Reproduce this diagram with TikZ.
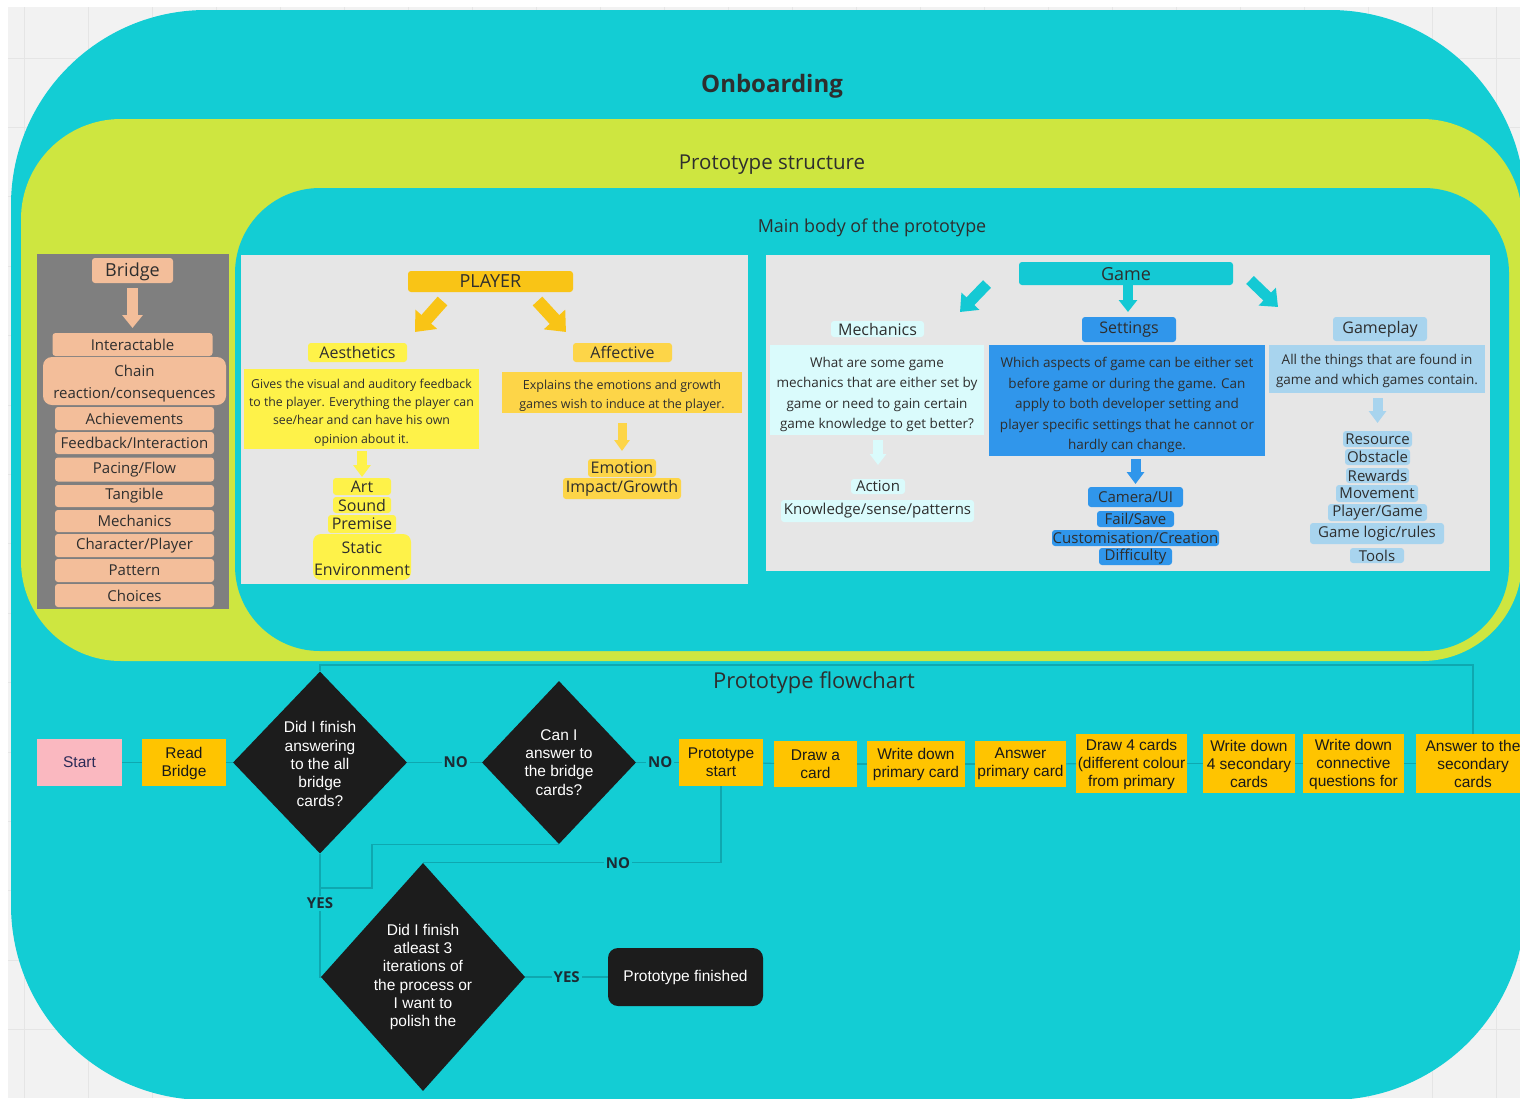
\documentclass[tikz,border=0pt]{standalone}
\usepackage{fontspec}
\setmainfont{Open Sans}
\newfontfamily\arialf{Liberation Sans}
\usetikzlibrary{arrows.meta,shapes.geometric,calc}
\definecolor{bgc}{HTML}{F2F2F2}
\definecolor{gridc}{HTML}{E5E5E5}
\definecolor{teal1}{HTML}{13CDD4}
\definecolor{lime1}{HTML}{CEE640}
\definecolor{grayp}{HTML}{7F7F7F}
\definecolor{panel}{HTML}{E6E6E6}
\definecolor{salm}{HTML}{F3BE9A}
\definecolor{pyel}{HTML}{F9C416}
\definecolor{byel}{HTML}{FEF249}
\definecolor{oyel}{HTML}{FDD548}
\definecolor{gteal}{HTML}{14C9D4}
\definecolor{lcyan}{HTML}{DAFBFC}
\definecolor{sblue}{HTML}{3096EB}
\definecolor{lblue}{HTML}{A8D4EE}
\definecolor{fbox}{HTML}{FFC400}
\definecolor{pink1}{HTML}{FAB8C0}
\definecolor{dia}{HTML}{1C1C1C}
\definecolor{linec}{HTML}{0EA8B0}
\definecolor{txt}{HTML}{2E2E2E}
\definecolor{navy1}{HTML}{2B2B57}
\definecolor{lbl}{HTML}{1D2B33}
\newcommand\dnstrut[1]{\rule{0pt}{#1}}
\begin{document}
\begin{tikzpicture}[x=1pt,y=-1pt,
  bx/.style={rectangle, inner sep=0pt, outer sep=0pt, align=center, text=txt},
  sal/.style={bx, fill=salm, rounded corners=3pt, font=\fontsize{15}{18}\selectfont},
  lab/.style={bx, rounded corners=3pt, font=\fontsize{16}{19}\selectfont},
  itm/.style={bx, rounded corners=3pt, font=\fontsize{15}{17}\selectfont},
  dsc/.style={bx, font=\fontsize{12.3}{18.3}\selectfont},
  dscg/.style={bx, font=\fontsize{13.5}{20.4}\selectfont},
  blk/.style n args={3}{line width=#1, -{Triangle[width=#2,length=#3]}},
  fl/.style={bx, fill=fbox, font=\arialf\fontsize{15.5}{18}\selectfont, text=black!90},
  dm/.style={diamond, fill=dia, inner sep=0pt, aspect=1, align=center, text=white, font=\arialf\fontsize{15.5}{18.3}\selectfont},
  cn/.style={draw=linec, line width=1.1pt},
  yn/.style={font=\bfseries\fontsize{15}{18}\selectfont, text=lbl, fill=teal1, inner sep=2pt},
  ttl/.style={text=txt, inner sep=0pt}
]
\useasboundingbox (0,0) rectangle (1520,1098);
\clip (0,0) rectangle (1520,1098);
% background
\fill[white] (0,0) rectangle (1520,1098);
\fill[bgc] (8,7) rectangle (1520,1098);
\foreach \x in {24,88,...,1520} \draw[gridc, line width=0.8pt] (\x,7) -- (\x,1098);
\foreach \k in {0,...,15} \draw[gridc, line width=0.8pt] (8,{58+69.4*\k}) -- (1520,{58+69.4*\k});
% containers
\fill[teal1, rounded corners=195pt] (11,10) rectangle (1525,1100);
\fill[lime1, rounded corners=100pt] (21,119) rectangle (1522,661);
\fill[teal1, rounded corners=85pt] (235,188) rectangle (1509,651);
\node[ttl, font=\bfseries\fontsize{24}{28}\selectfont] (onb) at (772,86) {Onboarding};
\node[ttl, font=\fontsize{20.5}{24}\selectfont] (pstruct) at (772,164.5) {Prototype structure};
\node[ttl, font=\fontsize{17.9}{21}\selectfont] (mbody) at (872,227.5) {Main body of the prototype};
\node[ttl, font=\fontsize{21.9}{25}\selectfont] (pflow) at (814,682.5) {Prototype flowchart};

% Bridge panel
\node[bx, fill=grayp, minimum width=192pt, minimum height=355pt] (bpanel) at (133,431.5) {};
\node[sal, font=\fontsize{18}{20}\selectfont, minimum width=81pt, minimum height=25pt] (bridge) at (132.5,270.5) {\dnstrut{16pt}Bridge};
\node[sal, minimum width=160pt, minimum height=23pt] (b1) at (132.5,344.5) {Interactable};
\node[sal, rounded corners=9pt, font=\fontsize{15}{22}\selectfont, minimum width=183pt, minimum height=48pt] (b2) at (134.5,381) {\dnstrut{17pt}Chain\\reaction/consequences};
\node[sal, minimum width=159pt, minimum height=23pt] (b3) at (134.5,418.5) {Achievements};
\node[sal, minimum width=159pt, minimum height=22pt] (b4) at (134.5,443) {Feedback/Interaction};
\node[sal, minimum width=159pt, minimum height=24pt] (b5) at (134.5,469.5) {Pacing/Flow};
\node[sal, minimum width=159pt, minimum height=22pt] (b6) at (134.5,496) {Tangible};
\node[sal, minimum width=159pt, minimum height=22pt] (b7) at (134.5,521) {Mechanics};
\node[sal, minimum width=159pt, minimum height=23pt] (b8) at (134.5,545.5) {Character/Player};
\node[sal, minimum width=159pt, minimum height=23pt] (b9) at (134.5,570.5) {Pattern};
\node[sal, minimum width=159pt, minimum height=23pt] (b10) at (134.5,595.5) {Choices};
\draw[blk={11pt}{20pt}{13pt}, salm] ($(bridge.south)+(0,5)$) -- ($(b1.north)+(0,-5)$);

% Player panel
\node[bx, fill=panel, minimum width=507pt, minimum height=329pt] (ppanel) at (494.5,419.5) {};
\node[lab, fill=pyel, font=\fontsize{18}{20}\selectfont, minimum width=165pt, minimum height=21pt] (player) at (490.5,281.5) {PLAYER};
\node[lab, fill=byel, minimum width=99pt, minimum height=19pt] (aes) at (357.5,352.5) {Aesthetics};
\node[dsc, fill=byel, minimum width=235pt, minimum height=80pt] (aesd) at (361.5,409) {\dnstrut{16.5pt}Gives the visual and auditory feedback\\to the player. Everything the player can\\see/hear and can have his own\\opinion about it.};
\node[itm, fill=byel, font=\fontsize{16}{18}\selectfont, minimum width=58pt, minimum height=17pt] (art) at (362,486.5) {Art};
\node[itm, fill=byel, font=\fontsize{16}{18}\selectfont, minimum width=58pt, minimum height=16pt] (sound) at (362,505) {Sound};
\node[itm, fill=byel, font=\fontsize{16}{18}\selectfont, minimum width=68pt, minimum height=18pt] (premise) at (362,524) {Premise};
\node[itm, fill=byel, rounded corners=8pt, font=\fontsize{16}{22}\selectfont, minimum width=98pt, minimum height=46pt] (static) at (362,557) {\dnstrut{15pt}Static\\Environment};
\node[lab, fill=oyel, minimum width=99pt, minimum height=19pt] (aff) at (622.5,352.5) {Affective};
\node[dsc, fill=oyel, font=\fontsize{12.5}{19.3}\selectfont, minimum width=240pt, minimum height=41pt] (affd) at (622,392.5) {\dnstrut{15.5pt}Explains the emotions and growth\\games wish to induce at the player.};
\node[itm, fill=oyel, font=\fontsize{16}{18}\selectfont, minimum width=68pt, minimum height=18pt] (emo) at (622,468) {Emotion};
\node[itm, fill=oyel, font=\fontsize{16}{18}\selectfont, minimum width=118pt, minimum height=21pt] (imp) at (622,488.5) {Impact/Growth};
\draw[blk={13pt}{28pt}{17pt}, pyel] ($(player.south)+(-48,9)$) -- ($(aes.north)+(57.5,-11)$);
\draw[blk={13pt}{28pt}{17pt}, pyel] ($(player.south)+(47,9)$) -- ($(aff.north)+(-56.5,-11)$);
\draw[blk={10pt}{17pt}{12pt}, byel] ($(aesd.south)+(0.5,2)$) -- ($(art.north)+(0,-1)$);
\draw[blk={9pt}{15pt}{11pt}, oyel] ($(affd.south)+(0,10)$) -- ($(emo.north)+(0,-8)$);

% Game panel
\node[bx, fill=panel, minimum width=724pt, minimum height=316pt] (gpanel) at (1128,413) {};
\node[lab, fill=gteal, font=\fontsize{18}{20}\selectfont, minimum width=214pt, minimum height=23pt] (game) at (1126,273.5) {\dnstrut{15pt}Game};
\node[lab, fill=lcyan, minimum width=93pt, minimum height=16pt] (mech) at (877.5,329) {Mechanics};
\node[dscg, fill=lcyan, minimum width=214pt, minimum height=90pt] (mechd) at (877,390) {\dnstrut{19pt}What are some game\\mechanics that are either set by\\game or need to gain certain\\game knowledge to get better?};
\node[itm, fill=lcyan, minimum width=54pt, minimum height=15pt] (action) at (878,486.5) {Action};
\node[itm, fill=lcyan, minimum width=193pt, minimum height=22pt] (know) at (877.5,511) {Knowledge/sense/patterns};
\node[lab, fill=sblue, minimum width=94pt, minimum height=25pt] (sett) at (1129,329.5) {Settings};
\node[dscg, fill=sblue, font=\fontsize{13.5}{20.5}\selectfont, minimum width=276pt, minimum height=111pt] (settd) at (1127,400.5) {\dnstrut{20pt}Which aspects of game can be either set\\before game or during the game. Can\\apply to both developer setting and\\player specific settings that he cannot or\\hardly can change.};
\node[itm, fill=sblue, minimum width=95pt, minimum height=20pt] (cam) at (1135.5,497) {Camera/UI};
\node[itm, fill=sblue, minimum width=77pt, minimum height=16pt] (fail) at (1135.5,519) {Fail/Save};
\node[itm, fill=sblue, minimum width=167pt, minimum height=16pt] (cust) at (1135.5,538) {Customisation/Creation};
\node[itm, fill=sblue, minimum width=73pt, minimum height=17pt] (diff) at (1135.5,556.5) {Difficulty};
\node[lab, fill=lblue, minimum width=94pt, minimum height=24pt] (gplay) at (1380,329) {Gameplay};
\node[dscg, fill=lblue, font=\fontsize{13.5}{20.7}\selectfont, minimum width=216pt, minimum height=48pt] (gpd) at (1377,369) {\dnstrut{14pt}All the things that are found in\\game and which games contain.};
\node[itm, fill=lblue, minimum width=69pt, minimum height=16pt] (res) at (1377.5,439) {Resource};
\node[itm, fill=lblue, minimum width=65pt, minimum height=16pt] (obs) at (1377.5,457) {Obstacle};
\node[itm, fill=lblue, minimum width=63pt, minimum height=15pt] (rew) at (1377.5,475.5) {Rewards};
\node[itm, fill=lblue, minimum width=82pt, minimum height=17pt] (mov) at (1377,493.5) {Movement};
\node[itm, fill=lblue, minimum width=99pt, minimum height=17pt] (pg) at (1377.5,512.5) {Player/Game};
\node[itm, fill=lblue, minimum width=134pt, minimum height=21pt] (glr) at (1377,533.5) {Game logic/rules};
\node[itm, fill=lblue, minimum width=54pt, minimum height=15pt] (tools) at (1377,555.5) {Tools};
\draw[blk={11pt}{24pt}{15pt}, gteal] ($(game.south west)+(-32,-1)$) -- ($(mech.north east)+(36,-9)$);
\draw[blk={10pt}{18pt}{12pt}, gteal] ($(game.south)+(2,0)$) -- ($(sett.north)+(-1,-5)$);
\draw[blk={11pt}{24pt}{15pt}, gteal] ($(game.south east)+(17,-5)$) -- ($(gplay.north west)+(-55,-10)$);
\draw[blk={10pt}{16pt}{11pt}, lcyan] ($(mechd.south)+(1,5)$) -- ($(action.north)+(0,-14)$);
\draw[blk={10pt}{17pt}{12pt}, sblue] ($(cam.north)+(0,-28)$) -- ($(cam.north)+(0,-3)$);
\draw[blk={10pt}{17pt}{12pt}, lblue] ($(res.north)+(0,-33)$) -- ($(res.north)+(0,-8)$);

% Flowchart
\node[bx, fill=pink1, text=navy1, font=\arialf\fontsize{15.5}{18}\selectfont, minimum width=85pt, minimum height=47pt] (start) at (79.5,762.5) {Start};
\node[fl, minimum width=84pt, minimum height=47pt] (rb) at (184,762.5) {\dnstrut{14pt}Read\\Bridge};
\node[dm, minimum width=174pt, minimum height=182pt] (d1) at (320,762.5) {\dnstrut{14pt}Did I finish\\answering\\to the all\\bridge\\cards?};
\node[dm, minimum width=154pt, minimum height=163pt] (d2) at (559,762.5) {Can I\\answer to\\the bridge\\cards?};
\node[fl, minimum width=84pt, minimum height=47pt] (ps) at (721,762.5) {Prototype\\start};
\node[fl, minimum width=83pt, minimum height=46pt] (dc) at (815.5,764) {Draw a\\card};
\node[fl, minimum width=98pt, minimum height=46pt] (wp) at (916,764) {Write down\\primary card};
\node[fl, minimum width=91pt, minimum height=46pt] (ap) at (1020.5,764) {Answer\\primary card};
\node[fl, minimum width=111pt, minimum height=59pt] (d4) at (1131.5,763.5) {\dnstrut{14pt}Draw 4 cards\\(different colour\\from primary};
\node[fl, minimum width=92pt, minimum height=59pt] (w4) at (1249,763.5) {Write down\\4 secondary\\cards};
\node[fl, minimum width=101pt, minimum height=59pt] (wc) at (1353.5,763.5) {\dnstrut{14pt}Write down\\connective\\questions for};
\node[fl, minimum width=114pt, minimum height=59pt] (as) at (1473,763.5) {Answer to the\\secondary\\cards};
\node[dm, minimum width=202pt, minimum height=228pt] (d3) at (423,977) {Did I finish\\atleast 3\\iterations of\\the process or\\I want to\\polish the};
\node[bx, fill=dia, rounded corners=10pt, text=white, font=\arialf\fontsize{15.5}{18}\selectfont, minimum width=155pt, minimum height=58pt] (pf) at (685.5,977) {Prototype finished};
\coordinate (j1) at (320,888);

\draw[cn] (start) -- (rb);
\draw[cn] (rb) -- (d1);
\draw[cn] (d1) -- node[yn,pos=0.65]{NO} (d2);
\draw[cn] (d2) -- node[yn,pos=0.56]{NO} (ps);
\draw[cn] (ps) -- (dc);
\draw[cn] (dc) -- (wp);
\draw[cn] (wp) -- (ap);
\draw[cn] (ap) -- (d4);
\draw[cn] (d4) -- (w4);
\draw[cn] (w4) -- (wc);
\draw[cn] (wc) -- (as);
\draw[cn] (as.north) -- ++(0,-69) -| (d1.north);
\draw[cn] (d1.south) |- node[yn,pos=0.2]{YES} (d3.west);
\draw[cn] (d2.south) -| ($(j1)+(52,0)$) -- (j1);
\draw[cn] (ps.south) |- node[yn,pos=0.673]{NO} (d3.north);
\draw[cn] (d3) -- node[yn,pos=0.5]{YES} (pf);
\end{tikzpicture}
\end{document}
